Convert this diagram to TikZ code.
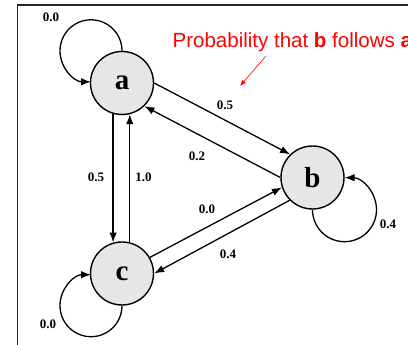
\documentclass[tikz,border=0pt]{standalone}
\usepackage{fontspec}
\setmainfont{Liberation Serif}
\newfontfamily\notefont{Liberation Sans}
\usetikzlibrary{arrows.meta}
\definecolor{nodegray}{RGB}{230,230,230}
\definecolor{notered}{RGB}{255,0,0}
\begin{document}
\begin{tikzpicture}[x=1pt,y=1pt,
  state/.style={circle,draw,line width=1.4pt,fill=nodegray,minimum size=63pt,inner sep=0pt,
    font=\bfseries\fontsize{29}{29}\selectfont},
  edge/.style={line width=1.3pt,-{Latex[length=10pt,width=7.5pt]}},
  lbl/.style={font=\bfseries\fontsize{13}{13}\selectfont,inner sep=0pt},
  frameline/.style={line width=1.3pt,draw=black!85}]
\clip (0,0) rectangle (408,345);
\draw[frameline] (17.5,0) -- (17.5,340) -- (408,340);

\node[state] (a) at (122,262) {a};
\node[state] (b) at (312.5,167.5) {b};
\node[state] (c) at (122,71.5) {c};

% self loops
\draw[edge] (a.north) arc[start angle=0,end angle=270,radius=31];
\draw[edge] (c.south) arc[start angle=0,end angle=-270,radius=31];
\draw[edge] (b.south) arc[start angle=180,end angle=450,radius=32];

% edges
\draw[edge] (a.0) -- (b.134);
\draw[edge] (b.180) -- (a.-46);
\draw[edge] (a.-106) -- (c.106);
\draw[edge] (c.76) -- (a.-76);
\draw[edge] (c.30) -- (b.198);
\draw[edge] (b.225) -- (c.0);

% labels
\node[lbl] (laa) at (51,327.5) {0.0};
\node[lbl] (lcc) at (48,21) {0.0};
\node[lbl] (lbb) at (388,121) {0.4};
\node[lbl] (lab) at (225,240) {0.5};
\node[lbl] (lba) at (197,189) {0.2};
\node[lbl] (lac) at (96,168) {0.5};
\node[lbl] (lca) at (143.5,168) {1.0};
\node[lbl] (lcb) at (207,136) {0.0};
\node[lbl] (lbc) at (228,91) {0.4};

% annotation
\node[anchor=base west,inner sep=0pt,text=notered,font=\notefont\fontsize{20.5}{20.5}\selectfont]
  (note) at (172.5,297.7) {Probability that \textbf{b} follows \textbf{a}};
\coordinate (ns) at (266,289);
\coordinate (ne) at (240,259);
\draw[notered,line width=0.6pt,-{Latex[length=6pt,width=4.5pt]}] (ns) -- (ne);
\end{tikzpicture}
\end{document}
